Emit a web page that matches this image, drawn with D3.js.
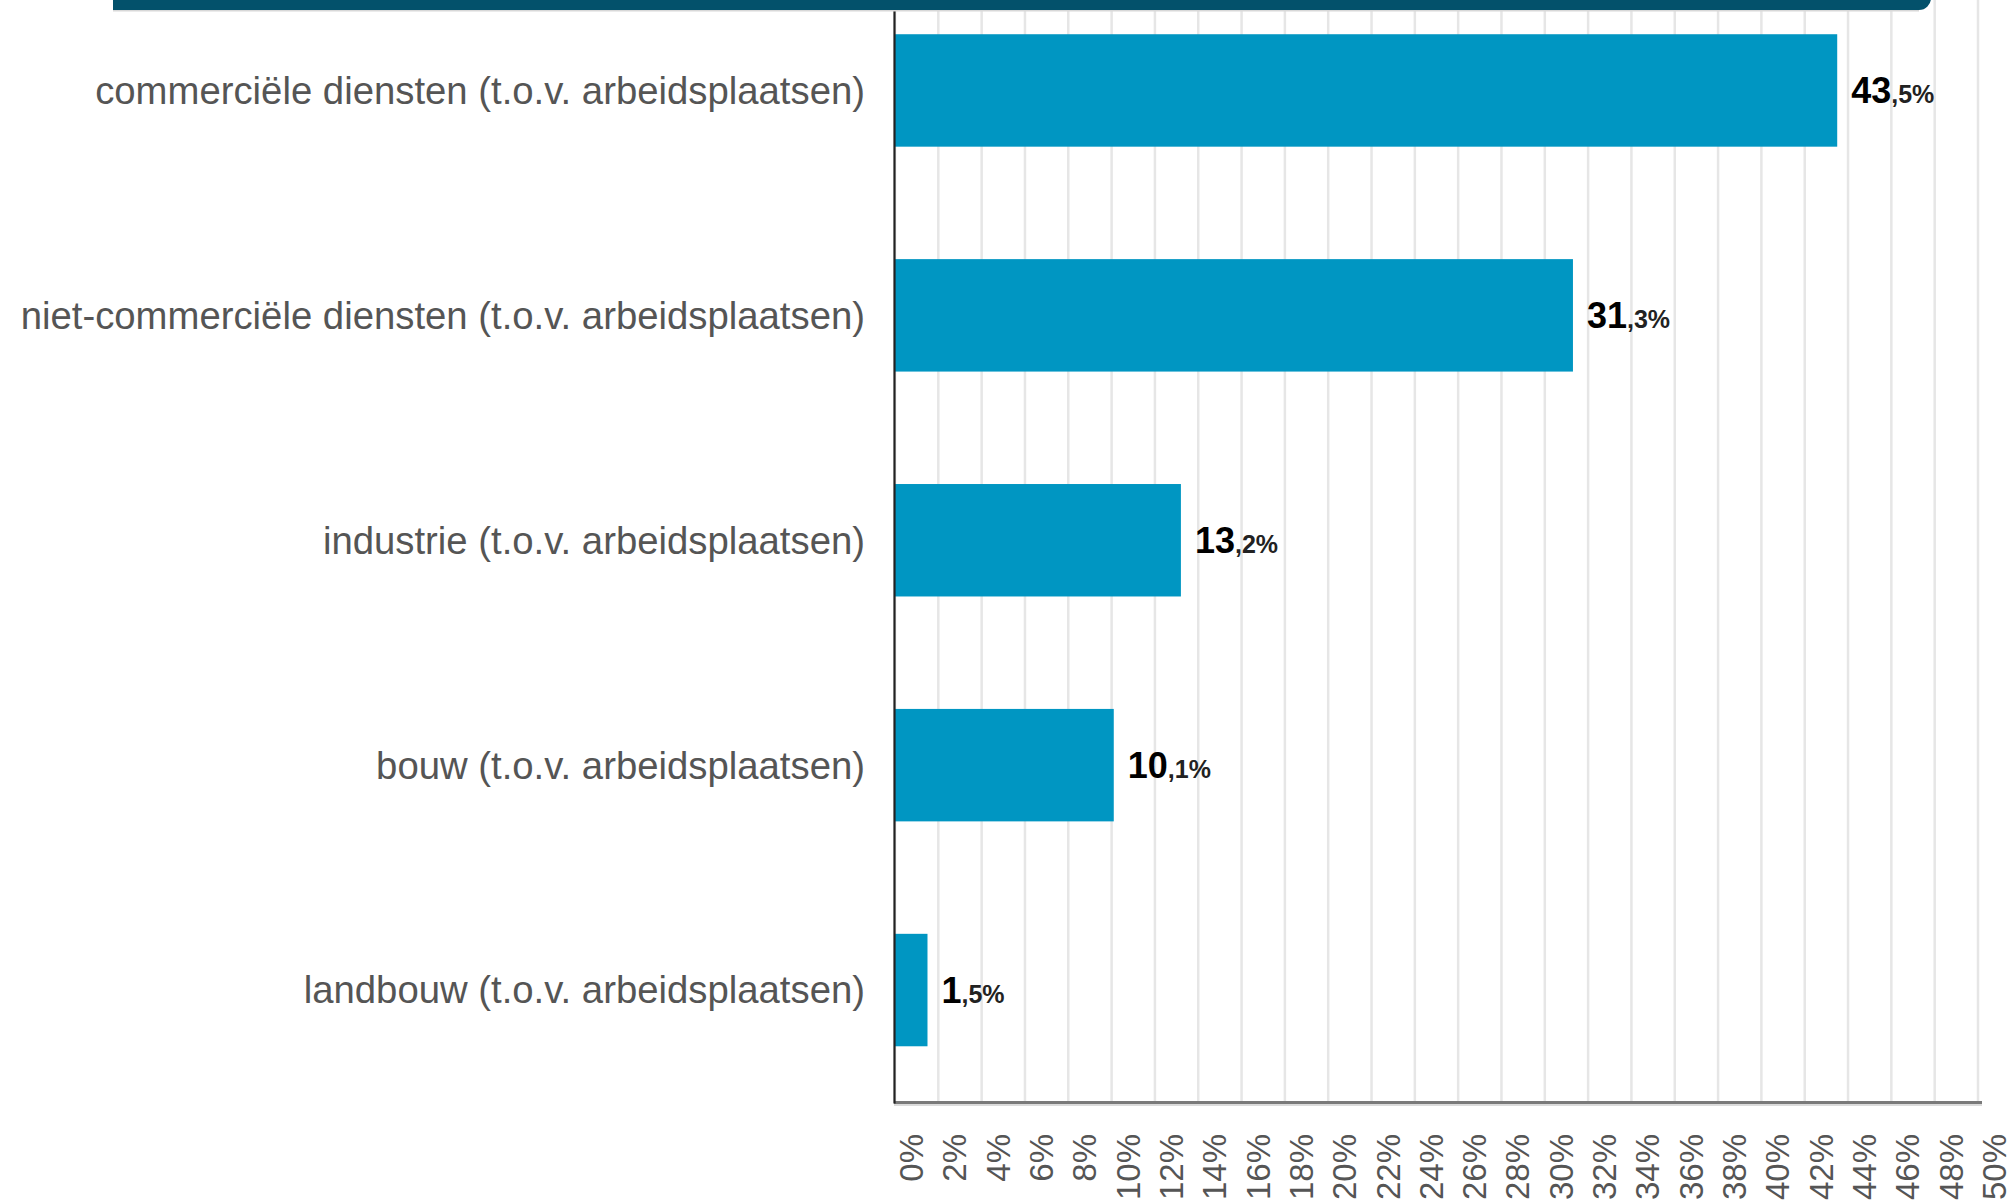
<!DOCTYPE html>
<html>
<head>
<meta charset="utf-8">
<script src="https://cdn.jsdelivr.net/npm/d3@7"></script>
<style>
html, body { margin: 0; padding: 0; background: #fff; }
svg { display: block; font-family: "Liberation Sans", Arial, sans-serif; }
</style>
</head>
<body>
<script>
const categories = [
  "commerciële diensten (t.o.v. arbeidsplaatsen)",
  "niet-commerciële diensten (t.o.v. arbeidsplaatsen)",
  "industrie (t.o.v. arbeidsplaatsen)",
  "bouw (t.o.v. arbeidsplaatsen)",
  "landbouw (t.o.v. arbeidsplaatsen)"
];
const values = [43.5, 31.3, 13.2, 10.1, 1.5];
const tickValues = d3.range(0, 51, 2);

const W = 2010, H = 1201;
const svg = d3.select("body").append("svg").attr("width", W).attr("height", H);

const x = d3.scaleLinear().domain([0, 50]).range([895, 1978]);
const y = d3.scaleBand().domain(categories).range([-22, 1102.5]).paddingInner(0.5).paddingOuter(0.25);
const axisY = 1102.5;

// gridlines
svg.append("g").selectAll("line").data(tickValues).join("line")
  .attr("x1", d => x(d)).attr("x2", d => x(d))
  .attr("y1", 0).attr("y2", axisY)
  .attr("stroke", "#e6e6e6").attr("stroke-width", 2.5);

// bars
svg.append("g").selectAll("rect").data(values).join("rect")
  .attr("x", x(0))
  .attr("y", (d, i) => y(categories[i]))
  .attr("width", d => x(d) - x(0))
  .attr("height", y.bandwidth())
  .attr("fill", "#0096c2");

// value labels
const vl = svg.append("g").selectAll("text").data(values).join("text")
  .attr("x", d => x(d) + 14)
  .attr("y", (d, i) => y(categories[i]) + y.bandwidth() / 2 + 13)
  .attr("font-size", 36)
  .attr("font-weight", "bold");
vl.append("tspan").attr("font-size", 36).attr("fill", "#000")
  .text(d => String(d.toFixed(1)).split(".")[0]);
vl.append("tspan").attr("font-size", 25).attr("fill", "#222")
  .text(d => "," + String(d.toFixed(1)).split(".")[1] + "%");

// category labels
svg.append("g").selectAll("text").data(categories).join("text")
  .attr("x", 865)
  .attr("y", d => y(d) + y.bandwidth() / 2)
  .attr("dy", "0.35em")
  .attr("text-anchor", "end")
  .attr("font-size", 38.3)
  .attr("fill", "#555")
  .text(d => d);

// bottom axis line
svg.append("line").attr("x1", 894).attr("x2", x(50) + 4)
  .attr("y1", axisY).attr("y2", axisY)
  .attr("stroke", "#7a7a7a").attr("stroke-width", 3);
svg.append("line").attr("x1", 894).attr("x2", x(50) + 4)
  .attr("y1", axisY + 2.5).attr("y2", axisY + 2.5)
  .attr("stroke", "#cfcfcf").attr("stroke-width", 1.5);

// vertical axis line
svg.append("line").attr("x1", x(0) - 0.5).attr("x2", x(0) - 0.5)
  .attr("y1", 10).attr("y2", axisY + 1)
  .attr("stroke", "#222").attr("stroke-width", 2.2);

// x tick labels (rotated)
svg.append("g").selectAll("text").data(tickValues).join("text")
  .attr("transform", d => `translate(${x(d) + 28},1134) rotate(-90)`)
  .attr("text-anchor", "end")
  .attr("font-size", 33)
  .attr("fill", "#555")
  .text(d => d + "%");

// header bar
const hx0 = 113, hx1 = 1931, hy = 10, r = 12;
svg.append("rect").attr("x", hx0).attr("y", hy).attr("width", hx1 - hx0 - r).attr("height", 1.5).attr("fill", "#d8d8d8");
svg.append("path")
  .attr("d", `M${hx0},0 H${hx1} V${hy - r} A${r},${r} 0 0 1 ${hx1 - r},${hy} H${hx0} Z`)
  .attr("fill", "#03516b");
</script>
</body>
</html>
